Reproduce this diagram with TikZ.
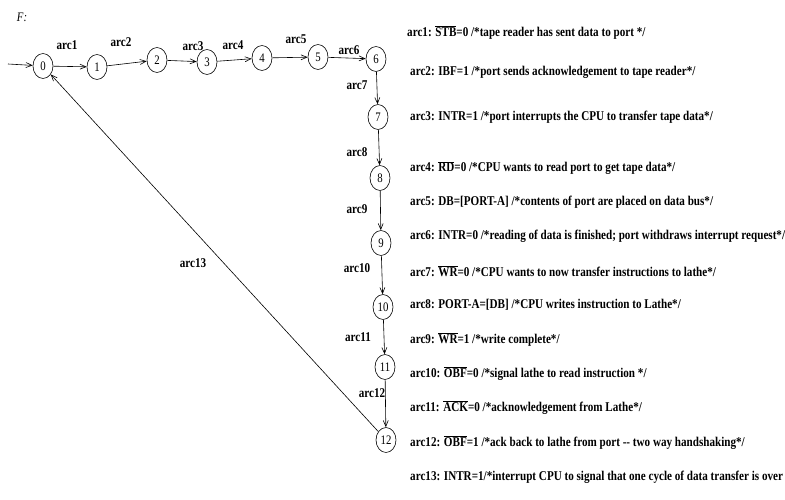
\documentclass[tikz,border=0pt]{standalone}
\usepackage{fontspec}
\setmainfont{Liberation Serif}[FakeStretch=0.83]
\usetikzlibrary{shapes.geometric,arrows.meta}
\newcommand\myol[1]{$\overline{\mbox{#1}}$}
\begin{document}
\begin{tikzpicture}[x=1pt,y=-1pt,
  st/.style={ellipse,draw,line width=0.6pt,minimum width=20pt,minimum height=25pt,inner sep=0pt,font=\fontsize{13}{13}\selectfont},
  lbl/.style={font=\fontsize{13.4}{15}\selectfont\bfseries,inner sep=0pt},
  desc/.style={font=\fontsize{13.4}{15}\selectfont\bfseries,inner sep=0pt,anchor=west},
  arr/.style={line width=0.6pt,-{Straight Barb[length=6pt,width=5pt]}}]
\useasboundingbox (0,0) rectangle (785,500);
\node[font=\fontsize{13}{13}\selectfont\itshape,inner sep=0pt] (F) at (22,17) {F:};
% states
\node[st] (n0) at (43,66) {0};
\node[st] (n1) at (97,67) {1};
\node[st] (n2) at (157,60) {2};
\node[st] (n3) at (207,62) {3};
\node[st] (n4) at (262,58) {4};
\node[st] (n5) at (318,57) {5};
\node[st] (n6) at (376,59) {6};
\node[st] (n7) at (378,117) {7};
\node[st] (n8) at (380,178) {8};
\node[st] (n9) at (381,243) {9};
\node[st] (n10) at (383,307) {10};
\node[st] (n11) at (385,367) {11};
\node[st] (n12) at (386,440) {12};
% arcs
\coordinate (in) at (8,64);
\draw[arr] (in) -- (n0);
\draw[arr] (n0) -- (n1);
\draw[arr] (n1) -- (n2);
\draw[arr] (n2) -- (n3);
\draw[arr] (n3) -- (n4);
\draw[arr] (n4) -- (n5);
\draw[arr] (n5) -- (n6);
\draw[arr] (n6) -- (n7);
\draw[arr] (n7) -- (n8);
\draw[arr] (n8) -- (n9);
\draw[arr] (n9) -- (n10);
\draw[arr] (n10) -- (n11);
\draw[arr] (n11) -- (n12);
\draw[arr] (n12) -- (n0);
% arc labels
\node[lbl] (l1) at (67,45) {arc1};
\node[lbl] (l2) at (121,42) {arc2};
\node[lbl] (l3) at (193,46) {arc3};
\node[lbl] (l4) at (233,45) {arc4};
\node[lbl] (l5) at (296,39) {arc5};
\node[lbl] (l6) at (349,50) {arc6};
\node[lbl] (l7) at (357,85) {arc7};
\node[lbl] (l8) at (357,152) {arc8};
\node[lbl] (l9) at (357,209) {arc9};
\node[lbl] (l10) at (357,268) {arc10};
\node[lbl] (l11) at (358,337) {arc11};
\node[lbl] (l12) at (372,393) {arc12};
\node[lbl] (l13) at (193,263) {arc13};
% descriptions
\node[desc] (d1) at (407,32) {arc1: \myol{STB}=0 /*tape reader has sent data to port */};
\node[desc] (d2) at (410,72) {arc2: IBF=1 /*port sends acknowledgement to tape reader*/};
\node[desc] (d3) at (410,117) {arc3: INTR=1 /*port interrupts the CPU to transfer tape data*/};
\node[desc] (d4) at (410,168) {arc4: \myol{RD}=0 /*CPU wants to read port to get tape data*/};
\node[desc] (d5) at (410,202) {arc5: DB=[PORT-A] /*contents of port are placed on data bus*/};
\node[desc] (d6) at (410,236.5) {arc6: INTR=0 /*reading of data is finished; port withdraws interrupt request*/};
\node[desc] (d7) at (410,271) {arc7: \myol{WR}=0 /*CPU wants to now transfer instructions to lathe*/};
\node[desc] (d8) at (410,305) {arc8: PORT-A=[DB] /*CPU writes instruction to Lathe*/};
\node[desc] (d9) at (410,339.5) {arc9: \myol{WR}=1 /*write complete*/};
\node[desc] (d10) at (410,374) {arc10: \myol{OBF}=0 /*signal lathe to read instruction */};
\node[desc] (d11) at (410,408) {arc11: \myol{ACK}=0 /*acknowledgement from Lathe*/};
\node[desc] (d12) at (410,442.5) {arc12: \myol{OBF}=1 /*ack back to lathe from port -{}- two way handshaking*/};
\node[desc] (d13) at (410,477) {arc13: INTR=1/*interrupt CPU to signal that one cycle of data transfer is over};
\end{tikzpicture}
\end{document}
